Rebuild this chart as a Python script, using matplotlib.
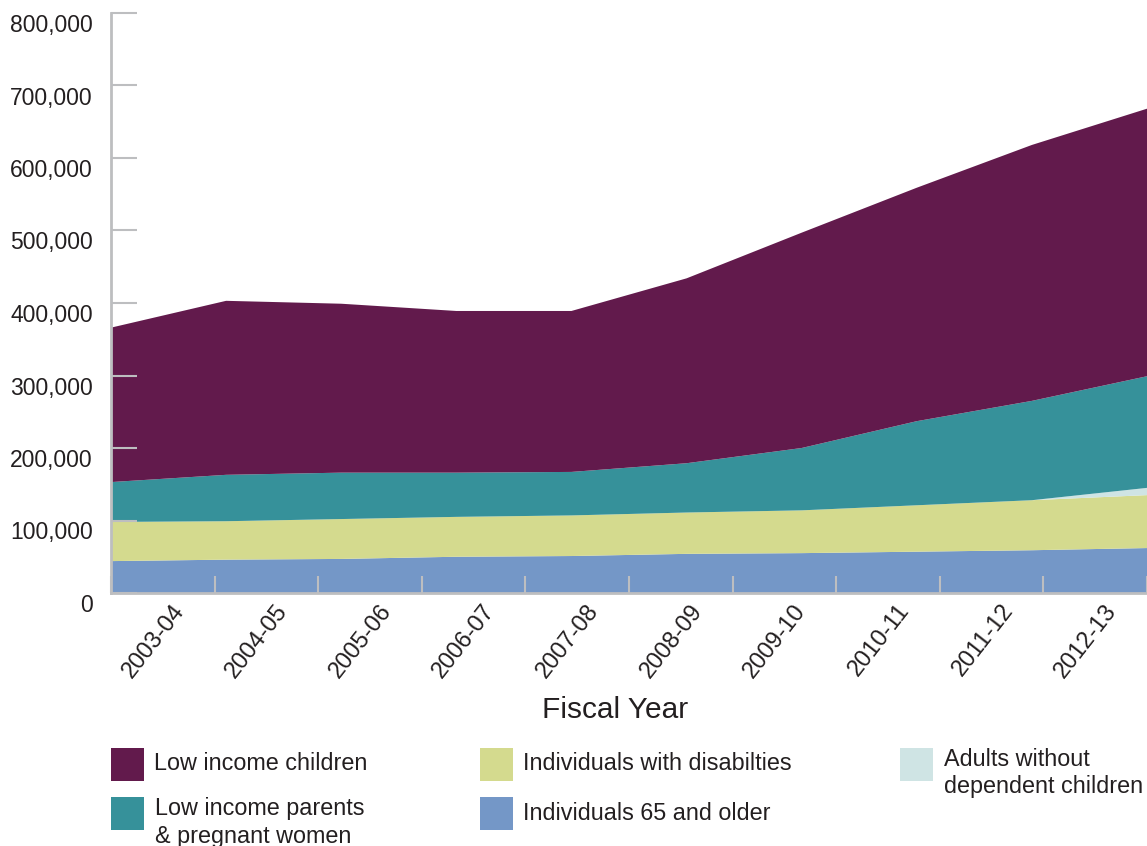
import matplotlib
matplotlib.use("Agg")
import matplotlib.pyplot as plt
import matplotlib.transforms as mtransforms
from matplotlib.patches import Rectangle
from matplotlib import font_manager
from matplotlib.ticker import FuncFormatter, FixedLocator

# Enrollment by group (people), fiscal years 2003-04 .. 2012-13
years = ["2003-04", "2004-05", "2005-06", "2006-07", "2007-08",
         "2008-09", "2009-10", "2010-11", "2011-12", "2012-13"]
aged = [44000, 46000, 47000, 50000, 51000, 54000, 55000, 57000, 59000, 62000]
disabled = [54000, 53000, 55000, 55000, 56000, 57000, 59000, 64000, 69000, 73000]
adults = [0, 0, 0, 0, 0, 0, 0, 0, 0, 10000]
parents = [55000, 64000, 64000, 61000, 60000, 68000, 86000, 116000, 137000, 154000]
children = [213000, 240000, 233000, 223000, 222000, 255000, 297000, 322000, 353000, 369000]

names = ["Low income children", "Low income parents\n& pregnant women",
         "Individuals with disabilties", "Individuals 65 and older",
         "Adults without\ndependent children"]
c_child, c_par, c_dis, c_aged, c_adult = "#621A4C", "#36919A", "#D4DA8E", "#7497C7", "#CFE4E4"

installed = {f.name for f in font_manager.fontManager.ttflist}
main_font = "Liberation Sans"
narrow_font = "Liberation Sans Narrow" if "Liberation Sans Narrow" in installed else main_font
plt.rcParams["font.family"] = main_font
text_c = "#231F20"
gray = "#BDBEC0"

fig = plt.figure(figsize=(11.47, 8.46), dpi=100)
ax = fig.add_axes([111/1147, 1 - 593/846, 1 - 111/1147, (593 - 13)/846])

x = list(range(len(years)))
ax.stackplot(x, aged, disabled, adults, parents, children,
             colors=[c_aged, c_dis, c_adult, c_par, c_child], lw=0)

ax.set_xlim(0, len(years) - 1)
ax.set_ylim(0, 800000)

for s in ["top", "right"]:
    ax.spines[s].set_visible(False)
for s in ["left", "bottom"]:
    ax.spines[s].set_color(gray)
    ax.spines[s].set_linewidth(2)

ax.set_yticks(range(0, 800001, 100000))
ax.yaxis.set_major_formatter(FuncFormatter(lambda v, p: "{:,.0f}".format(v)))
ax.tick_params(axis="y", direction="in", length=19, width=1.5, color=gray,
               labelsize=16.5, labelcolor=text_c, pad=13)
offset = mtransforms.ScaledTranslation(0, -0.10, fig.dpi_scale_trans)
for lab in ax.get_yticklabels():
    lab.set_transform(lab.get_transform() + offset)

# tick marks separate the years, labels sit between them
step = (len(years) - 1) / len(years)
ax.xaxis.set_major_locator(FixedLocator([k * step for k in range(len(years) + 1)]))
ax.xaxis.set_minor_locator(FixedLocator([(k + 0.5) * step + 0.15 for k in range(len(years))]))
ax.set_xticklabels([], minor=False)
ax.set_xticklabels(years, minor=True)
ax.tick_params(axis="x", which="major", direction="in", length=12, width=1.5, color=gray)
ax.tick_params(axis="x", which="minor", length=0, pad=10, labelsize=17, labelcolor=text_c)
for lab in ax.get_xticklabels(minor=True):
    lab.set_rotation(52)
    lab.set_ha("right")
    lab.set_va("center")
    lab.set_rotation_mode("anchor")
    lab.set_family(narrow_font)

# overlay in pixel coordinates for axis title and legend
ov = fig.add_axes([0, 0, 1, 1])
ov.set_xlim(0, 1147)
ov.set_ylim(846, 0)
ov.axis("off")
ov.text(615, 710, "Fiscal Year", fontsize=21.5, color=text_c, ha="center", va="center")

legend_items = [
    (names[0], c_child, 111, 748),
    (names[1], c_par, 111, 797),
    (names[2], c_dis, 480, 748),
    (names[3], c_aged, 480, 797),
    (names[4], c_adult, 900, 748),
]
for label, col, lx, ly in legend_items:
    ov.add_patch(Rectangle((lx, ly), 33, 33, color=col, lw=0))
    if "\n" in label:
        ov.text(lx + 44, ly, label, fontsize=16.8, color=text_c, ha="left", va="top",
                linespacing=1.25)
    else:
        ov.text(lx + 43, ly + 16, label, fontsize=16.8, color=text_c, ha="left", va="center")

fig.savefig("out.png", dpi=100)
